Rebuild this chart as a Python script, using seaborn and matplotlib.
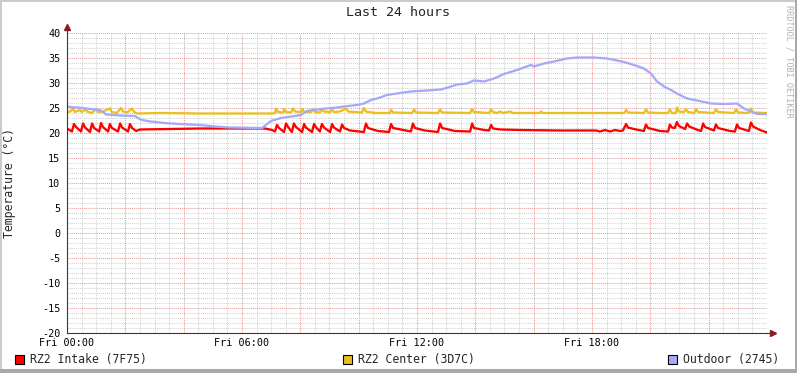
import matplotlib
matplotlib.use("Agg")
import matplotlib.pyplot as plt
from matplotlib.patches import Rectangle
import seaborn as sns
import numpy as np

# ---------------- data ----------------
title = "Last 24 hours"
ylabel = "Temperature (°C)"
watermark = "RRDTOOL / TOBI OETIKER"
series_names = ["RZ2 Intake (7F75)", "RZ2 Center (3D7C)", "Outdoor (2745)"]
series_colors = ["#FF0000", "#E8C020", "#A8A8F8"]

xtick_pos = [0, 6, 12, 18]
xtick_labels = ["Fri 00:00", "Fri 06:00", "Fri 12:00", "Fri 18:00"]
ytick_vals = [-20, -15, -10, -5, 0, 5, 10, 15, 20, 25, 30, 35, 40]

# hours since Fri 00:00
intake_h = [0.00, 0.17, 0.24, 0.31, 0.48, 0.55, 0.62, 0.79, 0.86, 0.93,
            1.10, 1.17, 1.23, 1.41, 1.47, 1.54, 1.75, 1.82, 1.89, 2.09,
            2.16, 2.23, 2.37, 2.50, 3.53, 4.56, 6.79, 7.03, 7.13, 7.20,
            7.27, 7.44, 7.51, 7.58, 7.71, 7.78, 7.85, 8.06, 8.13, 8.19,
            8.40, 8.47, 8.54, 8.67, 8.74, 8.81, 9.02, 9.09, 9.15, 9.36,
            9.43, 9.50, 9.70, 10.18, 10.25, 10.32, 10.66, 11.04, 11.11, 11.18,
            11.79, 11.86, 11.93, 12.27, 12.72, 12.79, 12.86, 13.30, 13.82, 13.89,
            13.95, 14.30, 14.47, 14.54, 14.61, 14.85, 15.53, 16.90, 18.14, 18.27,
            18.45, 18.62, 18.79, 18.96, 19.06, 19.17, 19.23, 19.51, 19.78, 19.85,
            19.92, 20.33, 20.61, 20.67, 20.74, 20.84, 20.91, 20.98, 21.19, 21.26,
            21.33, 21.63, 21.74, 21.81, 21.87, 22.18, 22.25, 22.32, 22.73, 22.90,
            22.97, 23.04, 23.38, 23.45, 23.52, 23.76, 24.00]
intake_v = [20.9, 20.3, 21.8, 21.2, 20.3, 21.9, 21.1, 20.2, 21.9, 21.0,
            20.3, 22.0, 21.2, 20.3, 21.8, 21.0, 20.3, 21.9, 21.1, 20.3,
            21.8, 21.0, 20.4, 20.7, 20.8, 20.9, 20.9, 20.6, 20.3, 21.6,
            21.0, 20.2, 21.9, 21.2, 20.2, 21.9, 21.2, 20.2, 21.8, 21.1,
            20.2, 21.8, 21.1, 20.3, 21.8, 21.1, 20.2, 21.8, 21.1, 20.3,
            21.7, 21.0, 20.5, 20.2, 21.9, 21.0, 20.4, 20.2, 21.8, 21.0,
            20.3, 21.9, 21.0, 20.5, 20.2, 21.9, 21.0, 20.4, 20.3, 21.9,
            21.0, 20.6, 20.5, 21.6, 20.9, 20.7, 20.6, 20.5, 20.5, 20.3,
            20.6, 20.3, 20.6, 20.4, 20.5, 21.8, 21.1, 20.7, 20.4, 21.7,
            21.0, 20.4, 20.3, 21.7, 21.1, 21.0, 22.2, 21.4, 20.8, 21.9,
            21.3, 20.6, 20.4, 21.9, 21.2, 20.5, 21.7, 21.0, 20.4, 20.3,
            21.7, 21.0, 20.4, 22.1, 21.3, 20.6, 20.1]

center_h = [0.00, 0.10, 0.21, 0.27, 0.45, 0.51, 0.62, 0.69, 0.86, 0.99,
            1.06, 1.23, 1.47, 1.54, 1.71, 1.85, 1.92, 2.06, 2.23, 2.30,
            2.40, 3.19, 4.56, 7.03, 7.13, 7.17, 7.23, 7.41, 7.44, 7.51,
            7.68, 7.75, 7.82, 8.02, 8.06, 8.13, 8.37, 8.43, 8.50, 8.67,
            8.74, 8.81, 9.02, 9.09, 9.15, 9.36, 9.57, 9.63, 9.87, 10.11,
            10.18, 10.25, 10.56, 11.07, 11.11, 11.18, 11.83, 11.90, 11.97, 12.72,
            12.79, 12.86, 13.82, 13.89, 13.95, 14.47, 14.54, 14.61, 14.74, 14.85,
            14.95, 15.19, 15.29, 16.22, 16.25, 16.32, 18.27, 19.10, 19.17, 19.23,
            19.78, 19.85, 19.92, 20.33, 20.61, 20.67, 20.74, 20.88, 20.91, 20.98,
            21.15, 21.22, 21.29, 21.50, 21.57, 21.63, 22.18, 22.25, 22.32, 22.87,
            22.94, 23.01, 23.38, 23.45, 23.52, 24.00]
center_v = [24.1, 24.3, 24.8, 24.2, 24.6, 24.2, 24.7, 24.3, 24.0, 24.8,
            24.2, 24.3, 24.9, 24.2, 24.0, 25.0, 24.3, 24.1, 24.9, 24.2,
            23.9, 24.0, 23.9, 23.9, 24.0, 24.9, 24.2, 24.1, 24.8, 24.2,
            24.1, 24.9, 24.3, 24.2, 24.8, 24.2, 24.2, 24.8, 24.2, 24.1,
            24.8, 24.3, 24.2, 24.8, 24.2, 24.3, 24.9, 24.3, 24.2, 24.1,
            25.0, 24.3, 24.0, 24.0, 24.6, 24.1, 24.0, 24.7, 24.1, 24.0,
            24.7, 24.1, 24.0, 24.8, 24.2, 24.0, 24.7, 24.2, 24.0, 24.3,
            24.0, 24.3, 24.0, 24.0, 24.3, 24.0, 24.0, 24.0, 24.6, 24.1,
            24.0, 24.7, 24.1, 24.0, 24.0, 24.7, 24.0, 24.0, 25.1, 24.3,
            24.2, 24.8, 24.2, 24.0, 24.8, 24.2, 24.0, 24.7, 24.2, 24.0,
            24.7, 24.1, 24.0, 24.9, 24.1, 24.0]

outdoor_h = [0.00, 0.27, 0.55, 0.79, 1.13, 1.23, 1.34, 1.82, 2.33, 2.43,
             2.57, 2.85, 3.36, 3.87, 4.56, 5.07, 5.59, 6.69, 6.82, 6.99,
             7.34, 7.68, 8.02, 8.23, 8.71, 9.26, 9.50, 9.94, 10.18, 10.42,
             10.63, 10.97, 11.31, 11.79, 12.34, 12.82, 13.17, 13.37, 13.71, 13.95,
             14.30, 14.64, 14.98, 15.43, 15.91, 16.01, 16.35, 16.70, 17.14, 17.49,
             18.07, 18.51, 18.86, 19.10, 19.44, 19.78, 20.02, 20.23, 20.47, 20.71,
             20.91, 21.26, 21.60, 22.08, 22.53, 22.97, 23.21, 23.45, 23.66, 24.00]
outdoor_v = [25.3, 25.1, 25.0, 24.8, 24.6, 24.2, 23.7, 23.5, 23.4, 23.0,
             22.6, 22.3, 22.0, 21.8, 21.6, 21.3, 21.1, 21.0, 21.6, 22.4,
             23.0, 23.3, 23.6, 24.4, 24.8, 25.1, 25.3, 25.6, 25.9, 26.6,
             26.9, 27.6, 27.9, 28.3, 28.5, 28.7, 29.3, 29.7, 29.9, 30.5,
             30.3, 30.9, 31.8, 32.6, 33.6, 33.3, 33.9, 34.3, 34.9, 35.1,
             35.1, 34.9, 34.5, 34.2, 33.6, 32.9, 31.9, 30.3, 29.3, 28.6,
             27.9, 26.9, 26.5, 25.9, 25.8, 25.9, 24.9, 24.3, 23.8, 23.8]

# ---------------- style ----------------
sns.set_style("white")
plt.rcParams["font.family"] = ["DejaVu Sans Mono", "DejaVu Sans"]

W, H = 797, 373
fig = plt.figure(figsize=(W / 100, H / 100), dpi=100)
fig.patch.set_facecolor("white")

L, R, T, B = 67, 767, 33, 333
ax = fig.add_axes([L / W, 1 - B / H, (R - L) / W, (B - T) / H])
ax.set_facecolor("white")

axis_col = "#4A3030"
arrow_col = "#8B1A1A"
minor_col = "#D2D2D2"
major_col = "#E59C9C"

ax.set_xlim(0, 24)
ax.set_ylim(-20, 40)

# grid (manual so that dotted minor/major look like rrdtool)
dot = (0, (1, 1))
for h in np.arange(0.5, 24, 0.5):
    if abs(h / 2 - round(h / 2)) > 1e-6:
        ax.axvline(h, color=minor_col, lw=0.75, ls=dot, zorder=0)
for v in range(-19, 41):
    if v % 5 != 0:
        ax.axhline(v, color=minor_col, lw=0.75, ls=dot, zorder=0)
for h in np.arange(2, 24, 2):
    ax.axvline(h, color=major_col, lw=0.75, ls=dot, zorder=0.5)
for v in ytick_vals[1:]:
    ax.axhline(v, color=major_col, lw=0.75, ls=dot, zorder=0.5)

lw = 1.65
sns.lineplot(x=intake_h, y=intake_v, ax=ax, color=series_colors[0], lw=lw,
             estimator=None, sort=False, zorder=3)
sns.lineplot(x=center_h, y=center_v, ax=ax, color=series_colors[1], lw=lw,
             estimator=None, sort=False, zorder=4)
sns.lineplot(x=outdoor_h, y=outdoor_v, ax=ax, color=series_colors[2], lw=lw,
             estimator=None, sort=False, zorder=5)

# axes / ticks
for s in ["top", "right"]:
    ax.spines[s].set_visible(False)
for s in ["left", "bottom"]:
    ax.spines[s].set_color(axis_col)
    ax.spines[s].set_linewidth(0.8)
    ax.spines[s].set_zorder(6)

ax.set_xticks(np.arange(0, 24, 2))
ax.set_xticklabels([xtick_labels[xtick_pos.index(h)] if h in xtick_pos else ""
                    for h in range(0, 24, 2)])
ax.set_xticks(np.arange(0, 24, 0.5), minor=True)
ax.set_yticks(ytick_vals)
ax.set_yticklabels([str(v) for v in ytick_vals])
ax.set_yticks(range(-20, 41), minor=True)
ax.tick_params(which="major", direction="out", length=2.5, width=0.75,
               color=axis_col, labelsize=7.3, labelcolor="black")
ax.tick_params(which="minor", direction="out", length=1.5, width=0.75,
               color=axis_col)
ax.tick_params(axis="y", pad=2.2)
ax.tick_params(axis="x", pad=1.2)
ax.set_xlabel("")
ax.set_ylabel("")

# axis extensions with arrowheads
ax.plot([1, 1 + 4 / 700], [0, 0], transform=ax.transAxes, color=axis_col,
        lw=0.8, clip_on=False, zorder=6)
ax.plot([0, 0], [1, 1 + 4 / 300], transform=ax.transAxes, color=axis_col,
        lw=0.8, clip_on=False, zorder=6)
ax.plot([1 + 6 / 700], [0], marker=">", ms=4, color=arrow_col,
        transform=ax.transAxes, clip_on=False, zorder=7)
ax.plot([0], [1 + 6 / 300], marker="^", ms=4, color=arrow_col,
        transform=ax.transAxes, clip_on=False, zorder=7)

# texts
fig.text(398 / W, 1 - 13 / H, title, ha="center", va="center", fontsize=9.6)
fig.text(10 / W, 1 - 183 / H, ylabel, ha="center", va="center",
         rotation=90, fontsize=8.3)
fig.text(789.5 / W, 1 - 61 / H, watermark, ha="center", va="center",
         rotation=270, fontsize=6.1, color="#B0B0B0")

# legend
leg_sq_x = [15, 343, 668]
for xs, name, col in zip(leg_sq_x, series_names, series_colors):
    fig.patches.append(Rectangle((xs / W, 1 - 363.5 / H), 9 / W, 9 / H,
                                 transform=fig.transFigure, facecolor=col,
                                 edgecolor="black", lw=0.8))
    fig.text((xs + 15) / W, 1 - 359 / H, name, ha="left", va="center",
             fontsize=8.3)

# frame shading
fig.patches.append(Rectangle((0, 1 - 2 / H), 1, 2 / H, transform=fig.transFigure,
                             facecolor="#CBCBCB", lw=0))
fig.patches.append(Rectangle((0, 0), 2 / W, 1, transform=fig.transFigure,
                             facecolor="#CBCBCB", lw=0))
fig.patches.append(Rectangle((0, 0), 1, 4 / H, transform=fig.transFigure,
                             facecolor="#A8A8A8", lw=0))
fig.patches.append(Rectangle((1 - 2 / W, 0), 2 / W, 1, transform=fig.transFigure,
                             facecolor="#A8A8A8", lw=0))

fig.savefig("out.png", dpi=100)
